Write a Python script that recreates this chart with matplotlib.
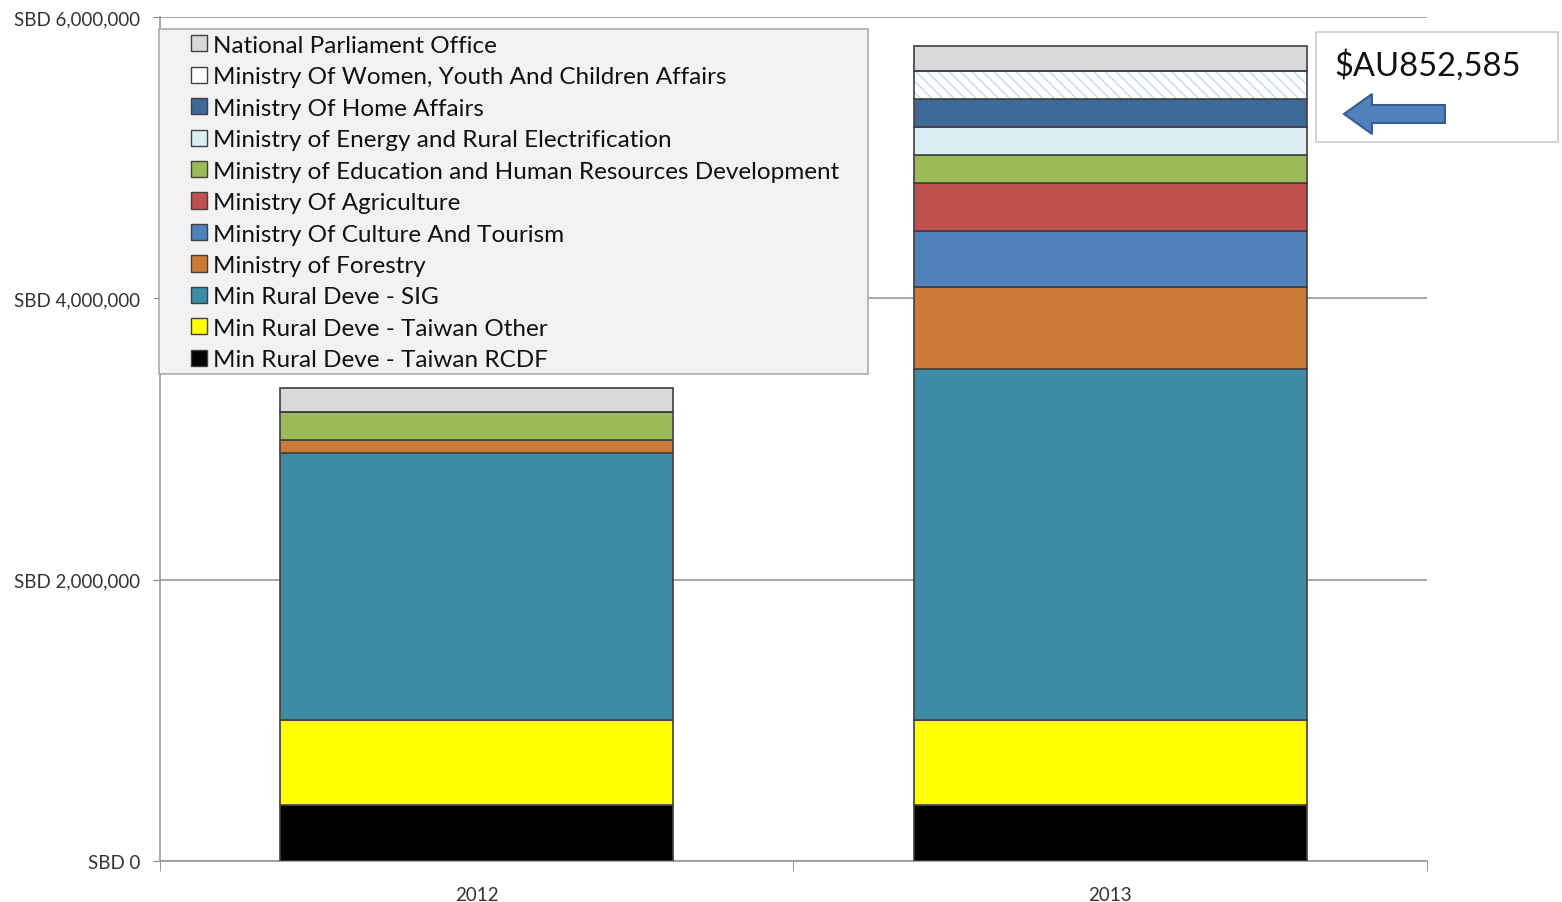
import matplotlib.pyplot as plt
import numpy as np
from matplotlib.patches import Rectangle, FancyArrow, Patch

plt.rcParams['font.family'] = ['Lato', 'DejaVu Sans']

years = ['2012', '2013']

# stacking order, bottom to top
series = [
    'Min Rural Deve - Taiwan RCDF',
    'Min Rural Deve - Taiwan Other',
    'Min Rural Deve - SIG',
    'Ministry of Forestry',
    'Ministry Of Culture And Tourism',
    'Ministry Of Agriculture',
    'Ministry of Education and Human Resources Development',
    'Ministry of Energy and Rural Electrification',
    'Ministry Of Home Affairs',
    'Ministry Of Women, Youth And Children Affairs',
    'National Parliament Office',
]
rcdf = [400000, 400000]
taiwan_other = [605000, 605000]
sig = [1895000, 2490000]
forestry = [92000, 583000]
culture = [0, 398000]
agriculture = [0, 341000]
education = [200000, 199000]
energy = [0, 199000]
home_affairs = [0, 199000]
women = [0, 199000]
parliament = [170000, 178000]

values = [rcdf, taiwan_other, sig, forestry, culture, agriculture,
          education, energy, home_affairs, women, parliament]
colors = ['#000000', '#ffff00', '#3b8ca4', '#cc7a38', '#4f81bd', '#c0504d',
          '#9bbb59', '#dbeef3', '#3e6898', '#ffffff', '#d9d9d9']

fig = plt.figure(figsize=(15.62, 9.03), dpi=100)
W, H = 1562, 903
ax = fig.add_axes([160 / W, 1 - 862 / H, (1427 - 160) / W, (862 - 18) / H])

x = np.arange(len(years))
bottom = np.zeros(len(years))
handles = []
for name, vals, c in zip(series, values, colors):
    vals = np.array(vals, dtype=float)
    if name.startswith('Ministry Of Women'):
        ax.bar(x, vals, 0.62, bottom=bottom, color='white', edgecolor='#b9dde9',
               hatch='\\\\\\', linewidth=0, zorder=3)
        ax.bar(x, vals, 0.62, bottom=bottom, color='none', edgecolor='#404040',
               linewidth=1.2, zorder=4)
    else:
        ax.bar(x, vals, 0.62, bottom=bottom, color=c, edgecolor='#404040',
               linewidth=1.2, zorder=3)
    bottom += vals
    handles.append(Patch(facecolor=c, edgecolor='#404040', linewidth=1, label=name))

ax.set_xlim(-0.5, 1.5)
ax.set_ylim(0, 6000000)
ax.set_yticks([0, 2000000, 4000000, 6000000])
ax.set_yticklabels(['SBD 0', 'SBD 2,000,000', 'SBD 4,000,000', 'SBD 6,000,000'],
                   fontsize=13.5, color='#333333')
ax.set_xticks(x)
ax.set_xticklabels(years, fontsize=13.5, color='#333333')
ax.set_xticks([-0.5, 0.5, 1.5], minor=True)
ax.tick_params(axis='x', which='major', length=0, pad=18)
ax.tick_params(axis='x', which='minor', length=7, color='#888888')
ax.tick_params(axis='y', length=5, color='#888888', pad=9)
ax.grid(axis='y', color='#999999', linewidth=1.2, zorder=0)
ax.set_axisbelow(True)
for s in ['top', 'right']:
    ax.spines[s].set_visible(False)
for s in ['left', 'bottom']:
    ax.spines[s].set_color('#999999')
    ax.spines[s].set_linewidth(1.2)

# legend frame drawn separately so the entries can sit inset from the left
fig.add_artist(Rectangle((159 / W, 1 - 375 / H), (868 - 159) / W, (375 - 30) / H,
                         transform=fig.transFigure, facecolor='#f2f2f2',
                         edgecolor='#aaaaaa', linewidth=1.2, zorder=9))
leg = fig.legend(handles=handles[::-1], loc='upper left',
                 bbox_to_anchor=(186 / W, 1 - 31 / H), fontsize=17.5,
                 frameon=False, handlelength=0.65, handleheight=0.65,
                 handletextpad=0.25, labelspacing=0.43,
                 borderpad=0.2, borderaxespad=0)
leg.set_zorder(10)
for t in leg.get_texts():
    t.set_color('#111111')

# annotation box with arrow
fig.add_artist(Rectangle((1316 / W, 1 - 143 / H), (1558 - 1316) / W, (143 - 33) / H,
                         transform=fig.transFigure, facecolor='white',
                         edgecolor='#cccccc', linewidth=1.2))
fig.text(1428 / W, 1 - 66 / H, '$AU852,585', fontsize=23.5, ha='center',
         va='center', color='#111111')
fig.add_artist(FancyArrow(1445 / W, 1 - 115 / H, -(1445 - 1344) / W, 0,
                          width=18 / H, head_width=40 / H, head_length=28 / W,
                          length_includes_head=True, transform=fig.transFigure,
                          facecolor='#4f81bd', edgecolor='#385d8a', linewidth=1.5))

fig.savefig('out.png', dpi=100)
